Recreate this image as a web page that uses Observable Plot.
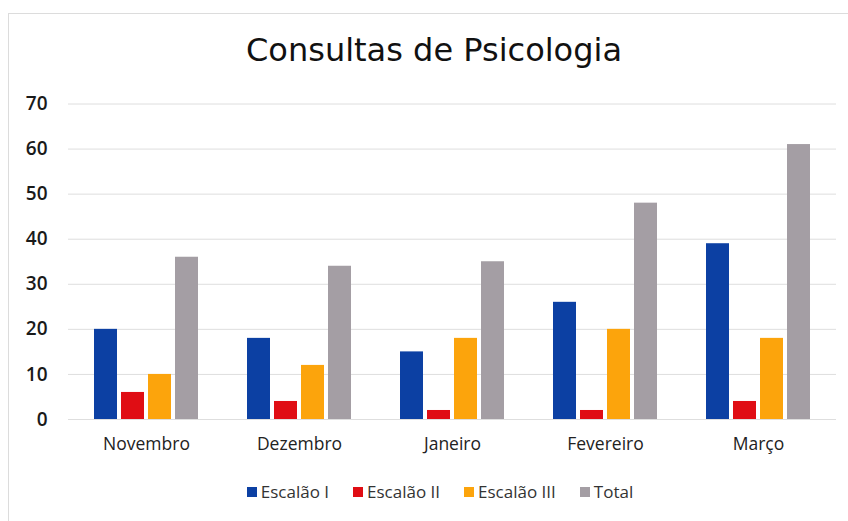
<!DOCTYPE html>
<html>
<head>
<meta charset="utf-8">
<script src="https://cdn.jsdelivr.net/npm/d3@7"></script>
<script src="https://cdn.jsdelivr.net/npm/@observablehq/plot@0.6"></script>
<style>
  html, body { margin: 0; padding: 0; background: #fff; width: 848px; height: 521px; overflow: hidden; }
  body { position: relative; font-family: "Open Sans", "DejaVu Sans", sans-serif; color: #333; }
  #frame { position: absolute; left: 8px; top: 13px; width: 860px; height: 540px; border: 1px solid #dcdcdc; box-sizing: border-box; }
  #title { position: absolute; left: 10px; width: 848px; top: 31px; text-align: center; font-size: 32px; font-family: "DejaVu Sans", sans-serif; color: #111; }
  .layer { position: absolute; left: 0; top: 90px; }
  #legend { position: absolute; left: 16px; width: 848px; top: 480px; display: flex; justify-content: center; gap: 24px; font-size: 17px; color: #333; }
  #legend span.item { display: flex; align-items: center; gap: 4px; }
  #legend span.sw { display: inline-block; width: 10px; height: 10px; }
</style>
</head>
<body>
<div id="frame"></div>
<div id="title">Consultas de Psicologia</div>
<div id="bg" class="layer"></div>
<div id="fg" class="layer"></div>
<div id="legend"></div>
<script>
const months = ["Novembro", "Dezembro", "Janeiro", "Fevereiro", "Março"];
const series = ["Escalão I", "Escalão II", "Escalão III", "Total"];
const escalaoI = [20, 18, 15, 26, 39];
const escalaoII = [6, 4, 2, 2, 4];
const escalaoIII = [10, 12, 18, 20, 18];
const total = [36, 34, 35, 48, 61];
const yTicks = [0, 10, 20, 30, 40, 50, 60, 70];
const colors = ["#0c40a3", "#e00d14", "#fca40c", "#a49ea4"];

const valuesBySeries = [escalaoI, escalaoII, escalaoIII, total];
const data = [];
months.forEach((m, i) => {
  series.forEach((s, j) => data.push({ month: m, series: s, value: valuesBySeries[j][i] }));
});

const common = {
  width: 848,
  height: 390,
  marginLeft: 68,
  marginRight: 12,
  marginTop: 13.5,
  marginBottom: 61,
  style: { fontSize: "17px", fontFamily: "'Open Sans', 'DejaVu Sans', sans-serif", color: "#222", background: "transparent", overflow: "visible" }
};

const bg = Plot.plot({
  ...common,
  style: { ...common.style, fontSize: "19px", fontWeight: 600, color: "#1a1a1a" },
  x: { axis: null },
  y: { domain: [0, 70], ticks: yTicks, tickSize: 0, tickPadding: 21, label: null },
  marks: [
    Plot.ruleY(yTicks, { stroke: "#dedede", strokeWidth: 1, dx: 0 })
  ]
});
document.getElementById("bg").appendChild(bg);

const fg = Plot.plot({
  ...common,
  style: { ...common.style, fontSize: "17.5px" },
  facet: { data: data, x: "month" },
  fx: { domain: months, paddingInner: 0.31, paddingOuter: 0.155, label: null, tickSize: 0, tickPadding: 18 },
  x: { domain: series, paddingInner: 0.15, paddingOuter: 0, axis: null },
  y: { domain: [0, 70], axis: null },
  color: { domain: series, range: colors },
  marks: [
    Plot.barY(data, { x: "series", y: "value", fill: "series" })
  ]
});
document.getElementById("fg").appendChild(fg);

const legend = document.getElementById("legend");
series.forEach((s, j) => {
  const item = document.createElement("span");
  item.className = "item";
  const sw = document.createElement("span");
  sw.className = "sw";
  sw.style.background = colors[j];
  const t = document.createElement("span");
  t.textContent = s;
  item.appendChild(sw);
  item.appendChild(t);
  legend.appendChild(item);
});
</script>
</body>
</html>
